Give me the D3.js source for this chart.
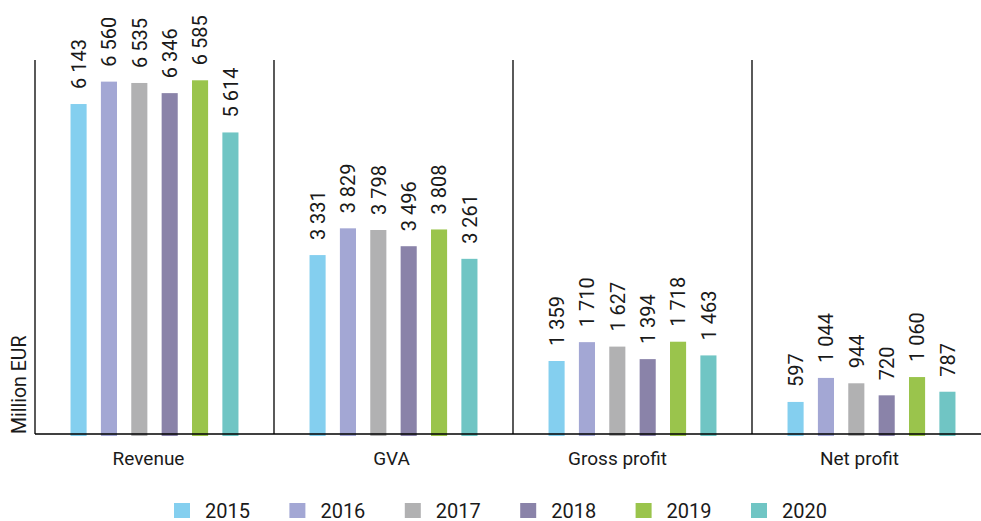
<!DOCTYPE html>
<html>
<head>
<meta charset="utf-8">
<script src="https://cdn.jsdelivr.net/npm/d3@7"></script>
<style>
  body { margin: 0; background: #fff; }
  svg text { font-family: Roboto, sans-serif; fill: #1a1a1a; }
</style>
</head>
<body>
<svg width="981" height="521"></svg>
<script>
"use strict"

var categories = ["Revenue", "GVA", "Gross profit", "Net profit"];
var years = ["2015", "2016", "2017", "2018", "2019", "2020"];
var colors = ["#84cfef", "#a3a7d4", "#b1b1b2", "#8a83a9", "#9ac44c", "#70c5c4"];

// one array per category, one value per year
var revenue = [6143, 6560, 6535, 6346, 6585, 5614];
var gva = [3331, 3829, 3798, 3496, 3808, 3261];
var grossProfit = [1359, 1710, 1627, 1394, 1718, 1463];
var netProfit = [597, 1044, 944, 720, 1060, 787];

var values = [revenue, gva, grossProfit, netProfit];

// the category names sit a little left of their group centre in the original
var labelShift = [-6, -2, -15, -12];

var svg = d3.select("svg");
var baseY = 434, topY = 58;

var fmt = d3.formatLocale({decimal: ",", thousands: "\u00a0", grouping: [3], currency: ["", ""]}).format(",d");

var x0 = d3.scaleBand().domain(categories).range([35, 991]);
var x1 = d3.scaleBand().domain(years).range([0, x0.bandwidth()])
    .paddingInner(0.47).paddingOuter(1.17);
var y = d3.scaleLinear().domain([0, 7000]).range([baseY, topY]);

// bars
var groups = svg.append("g").selectAll("g")
    .data(categories)
    .enter().append("g")
    .attr("transform", function(d) { return "translate(" + x0(d) + ",0)"; });

groups.selectAll("rect")
    .data(function(d, i) { return values[i].map(function(v, j) { return {year: years[j], v: v, c: colors[j]}; }); })
    .enter().append("rect")
    .attr("x", function(d) { return x1(d.year); })
    .attr("y", function(d) { return y(d.v); })
    .attr("width", x1.bandwidth())
    .attr("height", function(d) { return baseY - y(d.v) + 2; })
    .attr("fill", function(d) { return d.c; });

// value labels, rotated
groups.selectAll("text.val")
    .data(function(d, i) { return values[i].map(function(v, j) { return {year: years[j], v: v}; }); })
    .enter().append("text")
    .attr("class", "val")
    .attr("transform", function(d) {
        return "translate(" + (x1(d.year) + x1.bandwidth() / 2) + "," + (y(d.v) - 15) + ") rotate(-90)";
    })
    .attr("dy", "0.36em")
    .attr("font-size", 20)
    .text(function(d) { return fmt(d.v); });

// separators and baseline
svg.append("g").selectAll("line")
    .data(categories)
    .enter().append("line")
    .attr("x1", function(d) { return x0(d); })
    .attr("x2", function(d) { return x0(d); })
    .attr("y1", 60).attr("y2", baseY)
    .attr("stroke", "#000").attr("stroke-width", 1.3);

svg.append("line")
    .attr("x1", 35).attr("x2", 981)
    .attr("y1", baseY).attr("y2", baseY)
    .attr("stroke", "#000").attr("stroke-width", 1.3);

// category labels
svg.append("g").selectAll("text")
    .data(categories)
    .enter().append("text")
    .attr("x", function(d, i) { return x0(d) + x0.bandwidth() / 2 + labelShift[i]; })
    .attr("y", 465)
    .attr("text-anchor", "middle")
    .attr("font-size", 19)
    .text(function(d) { return d; });

// axis title
svg.append("text")
    .attr("transform", "translate(25.5," + baseY + ") rotate(-90)")
    .attr("font-size", 19.5)
    .text("Million EUR");

// legend
var leg = svg.append("g").selectAll("g")
    .data(years)
    .enter().append("g")
    .attr("transform", function(d, i) { return "translate(" + (174 + i * 115.4) + ",503)"; });
leg.append("rect")
    .attr("width", 16).attr("height", 15)
    .attr("fill", function(d, i) { return colors[i]; });
leg.append("text")
    .attr("x", 31).attr("y", 14.5)
    .attr("font-size", 20)
    .text(function(d) { return d; });
</script>
</body>
</html>
